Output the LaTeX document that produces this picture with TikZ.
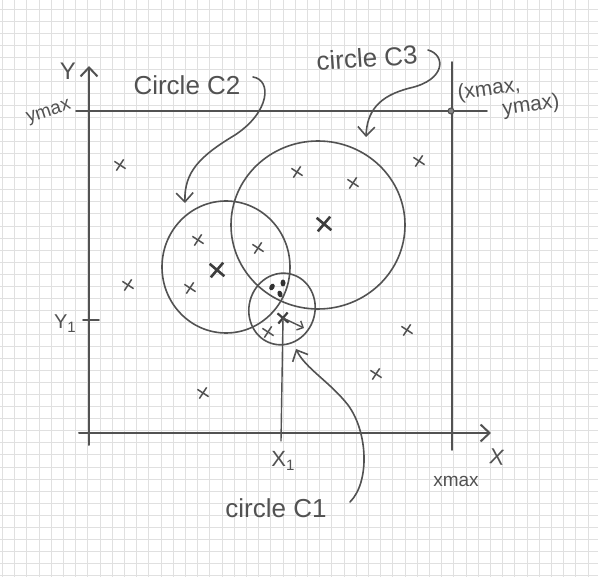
\documentclass[tikz,border=0pt]{standalone}
\usepackage{fontspec}
\setmainfont{Liberation Sans}
\usetikzlibrary{arrows.meta,shapes.geometric,shapes.misc}
\definecolor{pencil}{gray}{0.32}
\definecolor{gridc}{gray}{0.88}
\newcommand\subone{\raisebox{-0.4ex}{\fontsize{15}{17}\selectfont 1}}
\begin{document}
\begin{tikzpicture}[x=1pt,y=-1pt,
  pen/.style={draw=pencil,line width=1.6pt,line cap=round,line join=round},
  ax/.style={pen,line width=2pt},
  circ/.style={ellipse,draw=pencil,line width=1.6pt,inner sep=0pt,outer sep=0pt},
  pt/.style={cross out,draw=pencil,line width=1.5pt,minimum size=8pt,inner sep=0pt,rotate=12},
  bigpt/.style={cross out,draw=pencil!75!black,line width=2.6pt,minimum size=11pt,inner sep=0pt,rotate=5},
  dotp/.style={ellipse,fill=pencil!60!black,minimum width=5pt,minimum height=7pt,inner sep=0pt},
  lab/.style={text=pencil,inner sep=0pt},
  barb/.style={-{Straight Barb[length=9pt,width=17pt]}},
]
\fill[white] (0,0) rectangle (598,577);
\useasboundingbox (0,0) rectangle (598,577);
\foreach \i in {0,...,48} \draw[gridc,line width=0.7pt] ({2.4+12.2*\i},0) -- ({2.4+12.2*\i},577);
\foreach \j in {0,...,47} \draw[gridc,line width=0.7pt] (0,{9+12.05*\j}) -- (598,{9+12.05*\j});

% axes
\coordinate (yb) at (89,445); \coordinate (yt) at (89,66);
\coordinate (xl) at (79,433); \coordinate (xr) at (491,433);
\draw[ax,barb] (yb) -- (yt);
\draw[ax,barb] (xl) -- (xr);
% bounds
\coordinate (ymL) at (76,111); \coordinate (ymR) at (487,111);
\coordinate (xmT) at (452,62); \coordinate (xmB) at (452,450);
\draw[ax,line width=1.8pt] (ymL) -- (ymR);
\draw[ax,line width=1.8pt] (xmT) -- (xmB);
\node[circle,draw=pencil,fill=pencil!70,line width=1pt,minimum size=6pt,inner sep=0pt] (corner) at (451,111) {};
% y1 tick
\coordinate (y1a) at (83,320); \coordinate (y1b) at (99,320);
\draw[pen,line width=1.8pt] (y1a) -- (y1b);

% circles
\node[circ,minimum width=128pt,minimum height=132pt] (C2) at (226,267) {};
\node[circ,minimum width=174pt,minimum height=168pt] (C3) at (318,225) {};
\node[circ,minimum width=66pt,minimum height=72pt,rotate=-15] (C1) at (282,309) {};

% centers
\node[bigpt] (cC2) at (217,270) {};
\node[bigpt] (cC3) at (324,224) {};
\node[bigpt,minimum size=8pt,line width=2.2pt] (cC1) at (283,318) {};

% x1 line and radius arrow
\coordinate (x1b) at (281,441);
\draw[pen,line width=1.4pt] (cC1.center) -- (x1b);
\coordinate (r1) at (304,328);
\draw[pen,line width=1.4pt,-{Straight Barb[length=5pt,width=10pt]}] (cC1.center) -- (r1);

% data points
\node[pt] (p1) at (120,165) {};
\node[pt] (p2) at (198,240) {};
\node[pt] (p3) at (128,285) {};
\node[pt] (p4) at (190,288) {};
\node[pt] (p5) at (258,248) {};
\node[pt] (p6) at (297,172) {};
\node[pt] (p7) at (353,183) {};
\node[pt] (p8) at (419,161) {};
\node[pt] (p9) at (268,332) {};
\node[pt] (p10) at (407,330) {};
\node[pt] (p11) at (376,374) {};
\node[pt] (p12) at (203,393) {};
% dots in intersection
\node[dotp,rotate=-30] (d1) at (272,287) {};
\node[dotp] (d2) at (283,283) {};
\node[dotp,rotate=20] (d3) at (280,294) {};

% labels
\node[lab,font=\fontsize{24}{26}\selectfont] (Ylab) at (68,71) {Y};
\node[lab,font=\fontsize{22}{24}\selectfont,rotate=-8] (Xlab) at (497,457) {X};
\node[lab,font=\fontsize{19}{21}\selectfont,rotate=18] (ymaxlab) at (49,113) {ymax};
\node[lab,font=\fontsize{19}{21}\selectfont] (xmaxlab) at (456,481) {xmax};
\node[lab,font=\fontsize{22}{24}\selectfont] (x1lab) at (283,461) {X\subone};
\node[lab,font=\fontsize{20}{22}\selectfont] (y1lab) at (65,324) {Y\subone};
\node[lab,font=\fontsize{21}{23}\selectfont,rotate=8] (cornlab1) at (489,90) {(xmax,};
\node[lab,font=\fontsize{21}{23}\selectfont,rotate=8] (cornlab2) at (531,106) {ymax)};
\node[lab,font=\fontsize{26}{28}\selectfont] (c2lab) at (187,85) {Circle C2};
\node[lab,font=\fontsize{26}{28}\selectfont,rotate=4] (c3lab) at (367,58) {circle C3};
\node[lab,font=\fontsize{26}{28}\selectfont] (c1lab) at (276,508) {circle C1};

% label arrows
\coordinate (c2s) at (253,77); \coordinate (c2t) at (185,203);
\draw[pen,barb] (c2s) .. controls (272,80) and (270,112) .. (235,135)
  .. controls (200,156) and (184,172) .. (c2t);
\coordinate (c3s) at (428,50); \coordinate (c3t) at (366,137);
\draw[pen,barb] (c3s) .. controls (446,55) and (446,80) .. (410,88)
  .. controls (378,96) and (367,112) .. (c3t);
\coordinate (c1s) at (350,502); \coordinate (c1t) at (296,349);
\draw[pen,barb] (c1s) .. controls (370,482) and (368,432) .. (348,405)
  .. controls (330,382) and (305,368) .. (c1t);
\end{tikzpicture}
\end{document}
